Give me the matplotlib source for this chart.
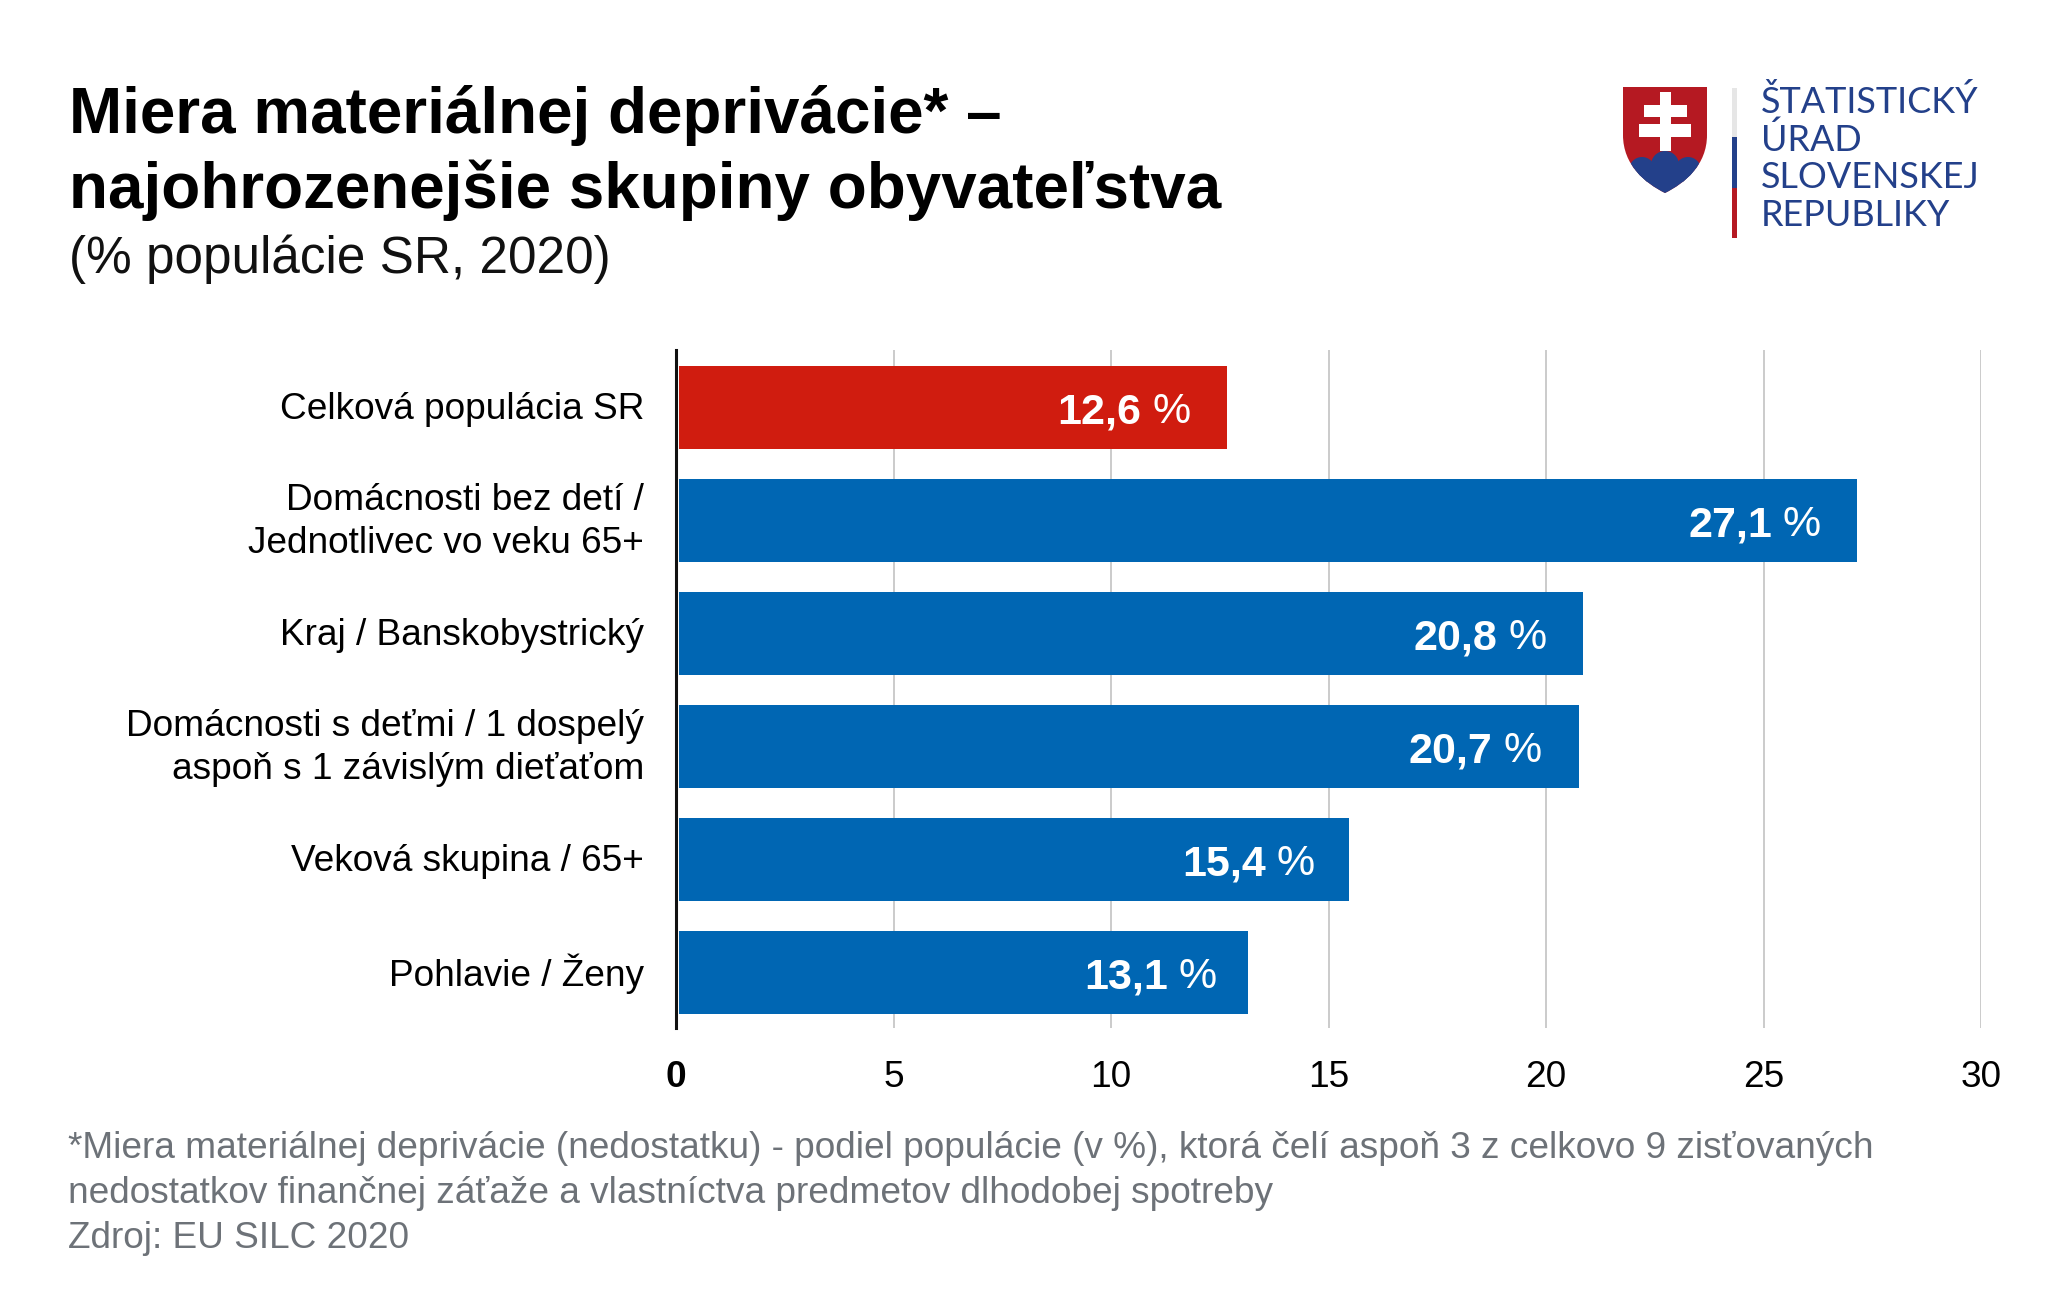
import matplotlib
matplotlib.use("Agg")
import matplotlib.pyplot as plt
from matplotlib.patches import PathPatch, Circle, Rectangle
from matplotlib.path import Path
from matplotlib.transforms import offset_copy, ScaledTranslation

plt.rcParams['font.family'] = ['Liberation Sans', 'DejaVu Sans']

# Data
categories = ["Celková populácia SR",
              "Domácnosti bez detí /\nJednotlivec vo veku 65+",
              "Kraj / Banskobystrický",
              "Domácnosti s deťmi / 1 dospelý\naspoň s 1 závislým dieťaťom",
              "Veková skupina / 65+",
              "Pohlavie / Ženy"]
values = [12.6, 27.1, 20.8, 20.7, 15.4, 13.1]
value_labels = ["12,6", "27,1", "20,8", "20,7", "15,4", "13,1"]
xticks = [0, 5, 10, 15, 20, 25, 30]

title_lines = ["Miera materiálnej deprivácie* –", "najohrozenejšie skupiny obyvateľstva"]
subtitle = "(% populácie SR, 2020)"
foot_lines = ["*Miera materiálnej deprivácie (nedostatku) - podiel populácie (v %), ktorá čelí aspoň 3 z celkovo 9 zisťovaných",
              "nedostatkov finančnej záťaže a vlastníctva predmetov dlhodobej spotreby",
              "Zdroj: EU SILC 2020"]
logo_lines = ["ŠTATISTICKÝ", "ÚRAD", "SLOVENSKEJ", "REPUBLIKY"]

RED = '#d01c0f'
BLUE = '#0066b3'
LOGO_BLUE = '#23408a'
LOGO_RED = '#b51922'
W, H = 2048, 1313


def px(size):
    # font size given in pixels at dpi 100
    return size * 0.72


fig = plt.figure(figsize=(W / 100, H / 100), dpi=100, facecolor='white')

# Chart
ax = fig.add_axes([676 / W, 1 - 1028 / H, (1981 - 676) / W, (1028 - 350) / H])
colors = [RED] + [BLUE] * (len(values) - 1)
ypos = list(range(len(values)))
ax.barh(ypos, values, height=0.735, left=0.06, color=colors, zorder=2)
ax.set_xlim(0, 30)
ax.set_ylim(5.49, -0.51)
ax.set_xticks(xticks)
ax.set_xticklabels([str(t) for t in xticks], fontsize=px(37))
ax.get_xticklabels()[0].set_fontweight('bold')
ax.set_yticks(ypos)
ax.set_yticklabels(categories, fontsize=px(37), linespacing=1.3, color='black')
ax.tick_params(axis='x', length=0, pad=23)
ax.tick_params(axis='y', length=0, pad=23)
ax.grid(axis='x', color='#bdbdbd', lw=1.1, zorder=1)
for name in ['top', 'right', 'bottom']:
    ax.spines[name].set_visible(False)
ax.spines['left'].set_linewidth(2.2)
ax.spines['left'].set_color('#111111')
ax.spines['left'].set_zorder(3)

# move the category labels up a little, the two-line ones a bit more
for lab in ax.get_yticklabels():
    shift = 6.5 if "\n" in lab.get_text() else 2.5
    up = ScaledTranslation(0, shift / 100, fig.dpi_scale_trans)
    lab.set_transform(lab.get_transform() + up)

# Value labels: bold number + regular percent sign
nudge = [0, 0, 0, -1, 3, 5]
for y, v, lab, n in zip(ypos, values, value_labels, nudge):
    base = ax.transData
    t_pct = offset_copy(base, fig=fig, x=(n - 37) * 0.72, y=-15.5 * 0.72, units='points')
    ax.text(v + 0.07, y, "%", transform=t_pct, ha='right', va='baseline',
            color='white', fontsize=px(43), zorder=4)
    t_num = offset_copy(base, fig=fig, x=(n - 37 - 49) * 0.72, y=-15.5 * 0.72, units='points')
    ax.text(v + 0.07, y, lab, transform=t_num, ha='right', va='baseline',
            color='white', fontsize=px(43), fontweight='bold', zorder=4)

# Overlay in pixel coordinates for header, footer and logo
ov = fig.add_axes([0, 0, 1, 1], facecolor='none')
ov.set_xlim(0, W)
ov.set_ylim(H, 0)
ov.axis('off')

for line, y in zip(title_lines, [133, 208]):
    ov.text(69, y, line, fontsize=px(63.7), fontweight='bold', color='black', va='baseline')
ov.text(69, 273, subtitle, fontsize=px(51.2), color='#111111', va='baseline')

for line, y in zip(foot_lines, [1158, 1203, 1248]):
    ov.text(68, y, line, fontsize=px(37), color='#6d7278', va='baseline')

# Logo
shield = Path([(1623, 87), (1707, 87), (1707, 135),
               (1707, 165), (1685, 183), (1665, 193),
               (1645, 183), (1623, 165), (1623, 135), (1623, 87)],
              [Path.MOVETO, Path.LINETO, Path.LINETO,
               Path.CURVE4, Path.CURVE4, Path.CURVE4,
               Path.CURVE4, Path.CURVE4, Path.CURVE4, Path.LINETO])
shield_patch = PathPatch(shield, facecolor=LOGO_RED, edgecolor='none')
ov.add_patch(shield_patch)
for cx, cy, r in [(1665, 165, 14), (1642, 170, 13), (1688, 170, 13)]:
    c = Circle((cx, cy), r, facecolor=LOGO_BLUE, edgecolor='none')
    ov.add_patch(c)
    c.set_clip_path(shield_patch)
base_rect = Rectangle((1623, 170), 84, 25, facecolor=LOGO_BLUE, edgecolor='none')
ov.add_patch(base_rect)
base_rect.set_clip_path(shield_patch)
ov.add_patch(Rectangle((1659.5, 92), 11, 59, facecolor='white', edgecolor='none'))
ov.add_patch(Rectangle((1644, 105), 43, 12, facecolor='white', edgecolor='none'))
ov.add_patch(Rectangle((1639, 124), 52, 13, facecolor='white', edgecolor='none'))

ov.add_patch(Rectangle((1732, 88), 4.5, 49, facecolor='#e6e6e6', edgecolor='none'))
ov.add_patch(Rectangle((1732, 137), 4.5, 51, facecolor=LOGO_BLUE, edgecolor='none'))
ov.add_patch(Rectangle((1732, 188), 4.5, 50, facecolor=LOGO_RED, edgecolor='none'))

for line, y in zip(logo_lines, [113, 151, 188, 226]):
    ov.text(1761, y, line, fontsize=px(36), family=['Lato', 'DejaVu Sans'], color=LOGO_BLUE, va='baseline')

fig.savefig('out.png', dpi=100, facecolor='white')
